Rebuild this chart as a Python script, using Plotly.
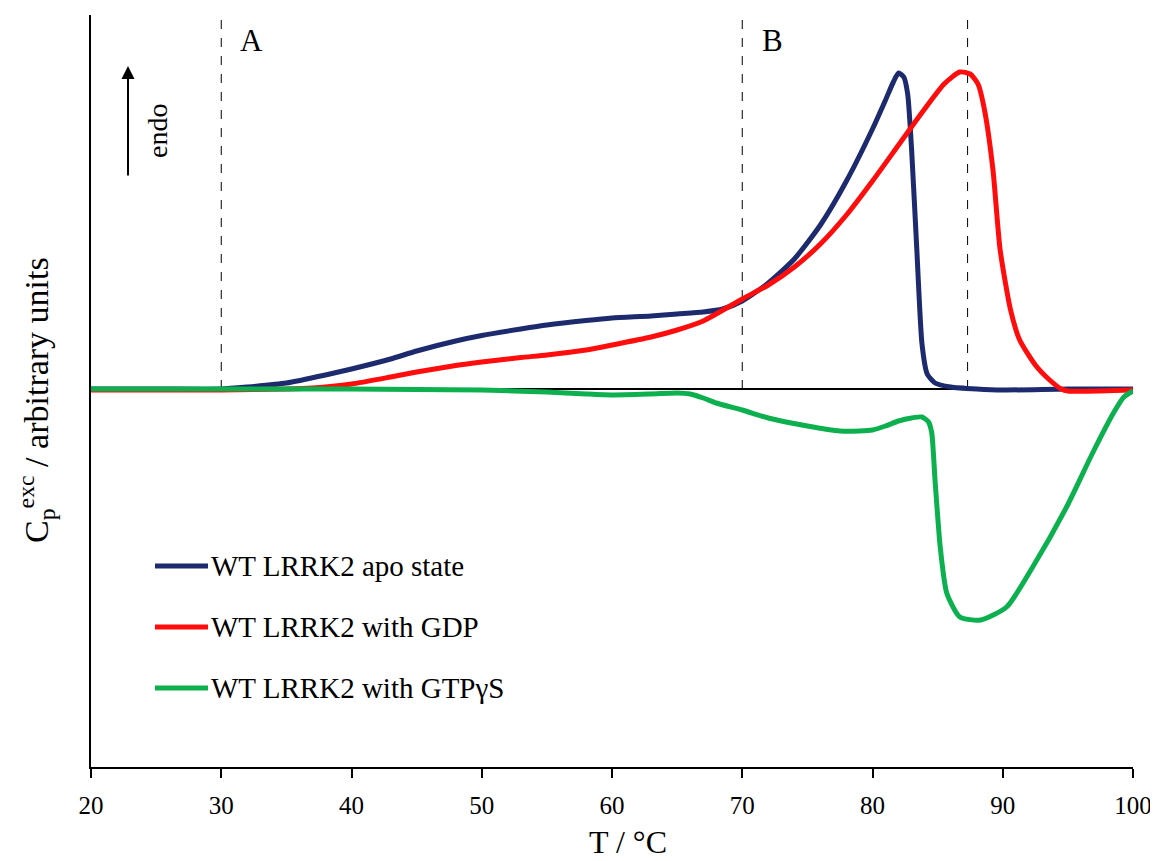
import plotly.graph_objects as go

# ---------------- data ----------------
t_apo = [20, 25, 30, 32, 35, 38, 40, 43, 45, 48, 50, 53, 55, 58, 60, 63, 65, 67, 68.5, 70,
         72, 74, 76, 78, 80, 81, 81.6, 82.0, 82.4, 82.7, 83.0, 83.4, 83.8, 84.2,
         84.8, 86, 88, 90, 95, 100]
cp_apo = [0, 0, 0, 0.02, 0.06, 0.14, 0.20, 0.30, 0.38, 0.48, 0.535, 0.60, 0.64, 0.685, 0.71,
          0.73, 0.75, 0.77, 0.80, 0.88, 1.06, 1.30, 1.64, 2.08, 2.60, 2.89, 3.07, 3.16, 3.12,
          2.95, 2.40, 1.40, 0.45, 0.15, 0.06, 0.02, 0.0, -0.01, 0.0, 0.0]

t_gdp = [20, 25, 30, 35, 37, 40, 43, 45, 48, 50, 53, 55, 58, 60, 63, 65, 67, 70, 72, 74,
         76, 78, 80, 82, 84, 85.5, 86.7, 87.5, 88.1, 88.6, 89.25, 89.8, 90.6, 91.3, 92.5,
         93.6, 94.5, 95, 100]
cp_gdp = [-0.01, -0.01, -0.01, 0, 0.01, 0.05, 0.12, 0.17, 0.235, 0.27, 0.315, 0.34, 0.39, 0.44,
          0.52, 0.59, 0.68, 0.90, 1.04, 1.22, 1.45, 1.74, 2.08, 2.44, 2.80, 3.05, 3.17, 3.15,
          3.05, 2.79, 2.19, 1.39, 0.79, 0.49, 0.24, 0.09, 0.0, -0.02, -0.01]

t_gtp = [20, 30, 40, 45, 50, 55, 58, 60, 63, 65, 66, 67, 68, 70, 72, 75, 77.5, 79, 80, 81,
         82, 83, 83.8, 84.3, 84.55, 84.8, 85.2, 85.7, 86.7, 88.3, 90.3, 92.3, 94.9, 96.9, 98.5,
         99.3, 100]
cp_gtp = [0, 0, 0, -0.005, -0.01, -0.03, -0.05, -0.06, -0.05, -0.04, -0.05, -0.09, -0.14,
          -0.21, -0.29, -0.37, -0.42, -0.42, -0.41, -0.37, -0.32, -0.29, -0.28, -0.33, -0.44,
          -0.91, -1.58, -2.04, -2.28, -2.31, -2.18, -1.78, -1.18, -0.64, -0.24, -0.08, -0.02]

series_names = ["WT LRRK2 apo state", "WT LRRK2 with GDP", "WT LRRK2 with GTPγS"]
series_colors = ["#1d2b6e", "#ff0d0d", "#0cb04e"]
x_ticks = [20, 30, 40, 50, 60, 70, 80, 90, 100]
marker_T = [30, 70, 87.3]
region_labels = [("A", 30), ("B", 70)]

X_RANGE = [20, 100]
Y_RANGE = [-3.78, 3.74]

FONT = "Liberation Serif, Times New Roman, serif"

fig = go.Figure()
for t, cp, name, col in zip([t_apo, t_gdp, t_gtp], [cp_apo, cp_gdp, cp_gtp],
                            series_names, series_colors):
    fig.add_trace(go.Scatter(x=t, y=cp, mode="lines", name=name,
                             line=dict(color=col, width=5, shape="spline", smoothing=0.6),
                             showlegend=False))

# dashed vertical markers
for xv in marker_T:
    fig.add_shape(type="line", xref="x", yref="y", x0=xv, x1=xv, y0=0, y1=Y_RANGE[1],
                  line=dict(color="black", width=1, dash="dash"), layer="below")

# page geometry (the html body adds an 8px margin)
OFF = 8
PAGE_W, PAGE_H = 1158, 861
PL, PR, PT, PB = 91, 1133, 15, 767          # plot area in page pixels
W, H = PAGE_W - OFF, PAGE_H - OFF
ML, MR, MT, MB = PL - OFF, PAGE_W - PR, PT - OFF, H + OFF - PB


def px(xp):
    return (xp - PL) / (PR - PL)


def py(yp):
    return (PB - yp) / (PB - PT)


annotations = []
for lab, xv in region_labels:
    annotations.append(dict(x=xv + 2.35, y=py(41), xref="x", yref="paper", text=lab,
                            showarrow=False, font=dict(family=FONT, size=31, color="black"),
                            xanchor="center", yanchor="middle"))

# endo arrow
annotations.append(dict(x=px(128), y=py(66), xref="paper", yref="paper", ax=0, ay=111,
                        text="", showarrow=True, arrowhead=2, arrowsize=1.3, arrowwidth=2,
                        arrowcolor="black"))
annotations.append(dict(x=px(157), y=py(131), xref="paper", yref="paper", text="endo",
                        textangle=-90, showarrow=False, xanchor="center", yanchor="middle",
                        font=dict(family=FONT, size=28, color="black")))

# legend (manual)
leg_y = [566, 627, 688]
for name, col, yy in zip(series_names, series_colors, leg_y):
    fig.add_shape(type="line", xref="paper", yref="paper", x0=px(155), x1=px(208),
                  y0=py(yy), y1=py(yy), line=dict(color=col, width=5))
    annotations.append(dict(x=px(209), y=py(yy), xref="paper", yref="paper", text=name,
                            showarrow=False, xanchor="left", yanchor="middle",
                            font=dict(family=FONT, size=29, color="black")))

# axis titles
annotations.append(dict(x=px(628), y=py(842), xref="paper", yref="paper", text="T / °C",
                        showarrow=False, font=dict(family=FONT, size=32, color="black"),
                        xanchor="center", yanchor="middle"))
annotations.append(dict(x=px(36), y=py(400), xref="paper", yref="paper",
                        text="C<sub>p</sub><sup>exc</sup> / arbitrary units", textangle=-90,
                        showarrow=False, font=dict(family=FONT, size=34, color="black"),
                        xanchor="center", yanchor="middle"))

fig.update_layout(
    width=W, height=H,
    margin=dict(l=ML, r=MR, t=MT, b=MB),
    paper_bgcolor="white", plot_bgcolor="white",
    font=dict(family=FONT, color="black"),
    annotations=annotations,
    xaxis=dict(range=X_RANGE, tickvals=x_ticks, ticks="outside", ticklen=9, tickwidth=2,
               tickcolor="black", showline=True, linecolor="black", linewidth=2,
               showgrid=False, zeroline=False, tickfont=dict(family=FONT, size=25),
               ticklabelstandoff=6),
    yaxis=dict(range=Y_RANGE, showticklabels=False, ticks="", showline=True,
               linecolor="black", linewidth=2, showgrid=False, zeroline=True,
               zerolinecolor="black", zerolinewidth=2),
)

fig.write_html("out.html")
